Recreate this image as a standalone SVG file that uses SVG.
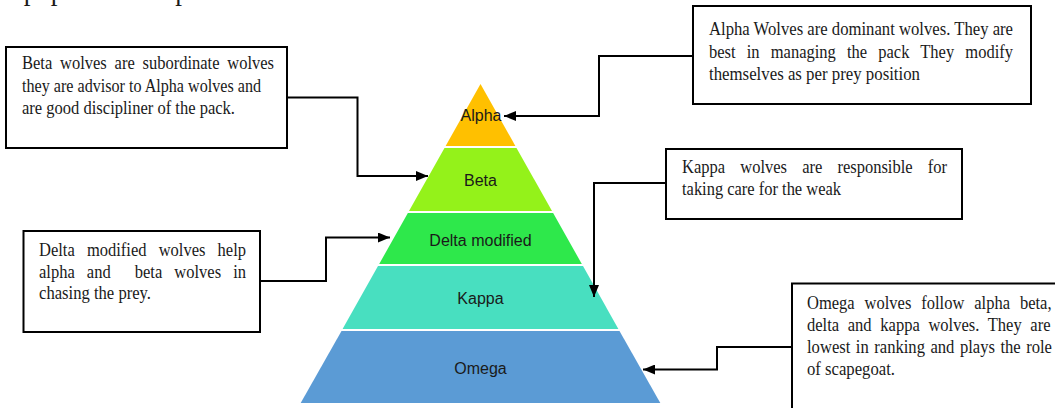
<svg xmlns="http://www.w3.org/2000/svg" width="1055" height="408" viewBox="0 0 1055 408">
<style>
.box{fill:#fff;stroke:#000;stroke-width:2}
.bt{font-family:"Liberation Serif","Times New Roman",serif;font-size:19px;fill:#1a1a1a}
.pl{font-family:"Liberation Sans",Arial,sans-serif;font-size:16px;fill:#1a1a1a;text-anchor:middle}
.con{fill:none;stroke:#000;stroke-width:2}
</style>
<defs>
<marker id="ah" viewBox="0 0 12 10" refX="12" refY="5" markerWidth="12" markerHeight="10" markerUnits="userSpaceOnUse" orient="auto">
<path d="M0,0 L12,5 L0,10 z" fill="#000"/>
</marker>
</defs>
<rect width="1055" height="408" fill="#fff"/>
<text class="bt" x="5" y="0" style="font-size:27px">e population as per modified rules</text>

<g id="level-alpha">
<polygon points="480.5,84 515.4,146 445.6,146" fill="#FFC000"/>
<text class="pl" x="481" y="120.5">Alpha</text>
</g>
<g id="level-beta">
<polygon points="444.5,148 516.5,148 552,211 409,211" fill="#94F21A"/>
<text class="pl" x="480.5" y="185.5">Beta</text>
</g>
<g id="level-delta">
<polygon points="407.9,213 553.1,213 581.8,264 379.2,264" fill="#2EE84B"/>
<text class="pl" x="480.5" y="245.5">Delta modified</text>
</g>
<g id="level-kappa">
<polygon points="378,266 583,266 618.4,329 342.6,329" fill="#48DFC0"/>
<text class="pl" x="480.5" y="303.5">Kappa</text>
</g>
<g id="level-omega">
<polygon points="341.5,331 619.5,331 660.3,403 300.7,403" fill="#5B9BD5"/>
<text class="pl" x="480.5" y="373.5">Omega</text>
</g>

<g id="box-beta">
<rect class="box" x="6" y="47" width="281" height="101"/>
<text class="bt" x="22" y="69" textLength="252" lengthAdjust="spacingAndGlyphs" style="word-spacing:4.25px">Beta wolves are subordinate wolves</text>
<text class="bt" x="22" y="91.5" textLength="239" lengthAdjust="spacingAndGlyphs">they are advisor to Alpha wolves and</text>
<text class="bt" x="22" y="114" textLength="213" lengthAdjust="spacingAndGlyphs">are good discipliner of the pack.</text>
</g>

<g id="box-alpha">
<rect class="box" x="693" y="6" width="338" height="98"/>
<text class="bt" x="709" y="35" textLength="304" lengthAdjust="spacingAndGlyphs">Alpha Wolves are dominant wolves. They are</text>
<text class="bt" x="709" y="57.5" textLength="304" lengthAdjust="spacingAndGlyphs" style="word-spacing:8.1px">best in managing the pack They modify</text>
<text class="bt" x="709" y="80" textLength="211" lengthAdjust="spacingAndGlyphs">themselves as per prey position</text>
</g>

<g id="box-kappa">
<rect class="box" x="666" y="149" width="296" height="70"/>
<text class="bt" x="682" y="173" textLength="265" lengthAdjust="spacingAndGlyphs" style="word-spacing:12.7px">Kappa wolves are responsible for</text>
<text class="bt" x="682" y="195" textLength="159" lengthAdjust="spacingAndGlyphs">taking care for the weak</text>
</g>

<g id="box-delta">
<rect class="box" x="23.5" y="231" width="236.5" height="101"/>
<text class="bt" x="39" y="256" textLength="207" lengthAdjust="spacingAndGlyphs" style="word-spacing:9.2px">Delta modified wolves help</text>
<text class="bt" x="39" y="277.5" textLength="207" lengthAdjust="spacingAndGlyphs" style="word-spacing:9.1px;white-space:pre" xml:space="preserve">alpha and  beta wolves in</text>
<text class="bt" x="39" y="299" textLength="112" lengthAdjust="spacingAndGlyphs">chasing the prey.</text>
</g>

<g id="box-omega">
<rect class="box" x="792" y="283.5" width="280" height="140"/>
<text class="bt" x="807" y="309" textLength="244.5" lengthAdjust="spacingAndGlyphs" style="word-spacing:6.7px">Omega wolves follow alpha beta,</text>
<text class="bt" x="807" y="330.7" textLength="243.5" lengthAdjust="spacingAndGlyphs" style="word-spacing:5.2px">delta and kappa wolves. They are</text>
<text class="bt" x="807" y="352.7" textLength="245" lengthAdjust="spacingAndGlyphs" style="word-spacing:1.5px">lowest in ranking and plays the role</text>
<text class="bt" x="807" y="374.5" textLength="88" lengthAdjust="spacingAndGlyphs">of scapegoat.</text>
</g>

<g id="connectors">
<path class="con" d="M287,97.5 H357.5 V176 H428" marker-end="url(#ah)"/>
<path class="con" d="M693,56 H599 V116 H504" marker-end="url(#ah)"/>
<path class="con" d="M260,281 H326 V237.5 H390" marker-end="url(#ah)"/>
<path class="con" d="M666,183 H594 V297" marker-end="url(#ah)"/>
<path class="con" d="M792,347 H717 V369.5 H643" marker-end="url(#ah)"/>
</g>
</svg>
